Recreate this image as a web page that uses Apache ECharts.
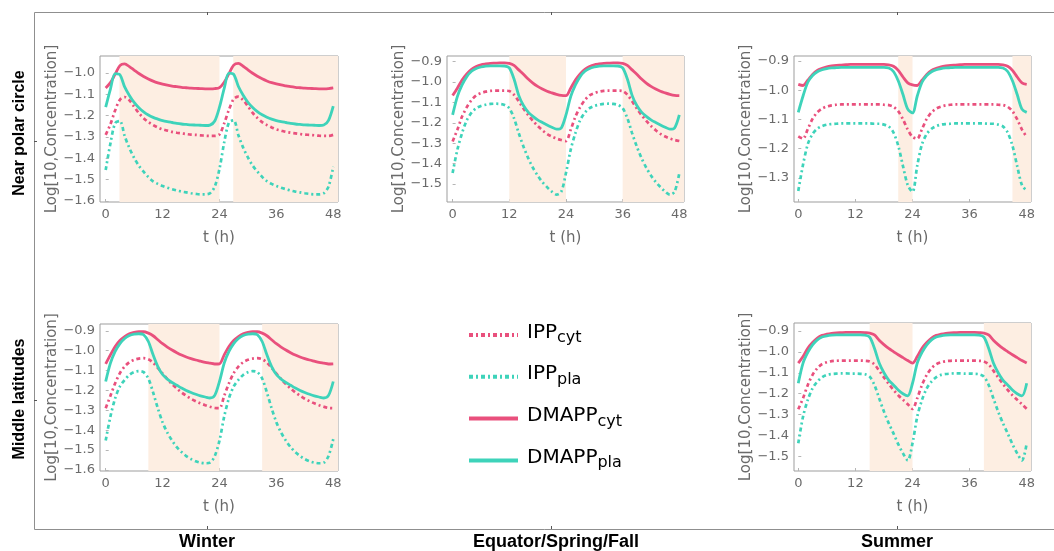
<!DOCTYPE html>
<html lang="en">
<head>
<meta charset="UTF-8">
<title>IPP / DMAPP diurnal profiles</title>
<script src="https://cdn.jsdelivr.net/npm/echarts@6/dist/echarts.min.js"></script>
<style>html,body{margin:0;padding:0;background:#fff;}</style>
</head>
<body>
<div id="main" style="width:1054px;height:551px"></div>
<script type="text/javascript">
var hours = [0,1,2,3,4,5,6,7,8,9,10,11,12,13,14,15,16,17,18,19,20,21,22,23,24,
             25,26,27,28,29,30,31,32,33,34,35,36,37,38,39,40,41,42,43,44,45,46,47,48];
var xTicks = [0, 12, 24, 36, 48];
var seriesNames = ['IPP_cyt', 'IPP_pla', 'DMAPP_cyt', 'DMAPP_pla'];
var rowLabels = ['Near polar circle', 'Middle latitudes'];
var colLabels = ['Winter', 'Equator/Spring/Fall', 'Summer'];

// near polar circle, winter
var polarWinterTicks = [-1.6, -1.5, -1.4, -1.3, -1.2, -1.1, -1.0];
var polarWinterNights = [[2.9, 24], [26.9, 48]];
var polarWinterIppCyt = [-1.29,-1.24,-1.175,-1.125,-1.113,-1.128,-1.158,-1.188,-1.212,-1.23,-1.244,-1.255,-1.264,-1.27,-1.276,-1.28,-1.283,-1.286,-1.289,-1.29,-1.292,-1.294,-1.295,-1.295,-1.288,
  -1.236,-1.172,-1.122,-1.111,-1.127,-1.156,-1.187,-1.211,-1.23,-1.244,-1.255,-1.264,-1.27,-1.276,-1.28,-1.283,-1.286,-1.289,-1.29,-1.292,-1.294,-1.295,-1.295,-1.29];
var polarWinterIppPla = [-1.455,-1.33,-1.235,-1.225,-1.295,-1.352,-1.398,-1.435,-1.463,-1.488,-1.508,-1.52,-1.53,-1.538,-1.545,-1.551,-1.556,-1.56,-1.564,-1.567,-1.569,-1.569,-1.564,-1.533,-1.45,
  -1.325,-1.232,-1.222,-1.292,-1.35,-1.396,-1.434,-1.462,-1.487,-1.507,-1.52,-1.53,-1.538,-1.545,-1.551,-1.556,-1.56,-1.564,-1.567,-1.569,-1.569,-1.564,-1.533,-1.44];
var polarWinterDmCyt = [-1.07,-1.045,-1.005,-0.965,-0.957,-0.97,-0.986,-1.002,-1.016,-1.028,-1.038,-1.046,-1.052,-1.057,-1.061,-1.064,-1.067,-1.069,-1.071,-1.072,-1.073,-1.074,-1.074,-1.073,-1.068,
  -1.043,-1.003,-0.963,-0.955,-0.968,-0.985,-1.001,-1.015,-1.027,-1.037,-1.045,-1.051,-1.056,-1.06,-1.064,-1.067,-1.069,-1.071,-1.072,-1.073,-1.074,-1.074,-1.073,-1.07];
var polarWinterDmPla = [-1.16,-1.075,-1.003,-1.008,-1.065,-1.105,-1.138,-1.163,-1.182,-1.197,-1.208,-1.216,-1.223,-1.228,-1.232,-1.236,-1.239,-1.241,-1.243,-1.244,-1.245,-1.246,-1.244,-1.225,-1.16,
  -1.072,-1.0,-1.006,-1.063,-1.104,-1.137,-1.162,-1.181,-1.196,-1.207,-1.216,-1.223,-1.228,-1.232,-1.236,-1.239,-1.241,-1.243,-1.244,-1.245,-1.246,-1.244,-1.222,-1.155];

// equator / spring / fall
var equatorTicks = [-1.5, -1.4, -1.3, -1.2, -1.1, -1.0, -0.9];
var equatorNights = [[12, 24], [36, 48]];
var equatorIppCyt = [-1.291,-1.234,-1.169,-1.123,-1.088,-1.065,-1.054,-1.047,-1.043,-1.042,-1.042,-1.042,-1.044,-1.062,-1.094,-1.13,-1.162,-1.19,-1.215,-1.236,-1.254,-1.267,-1.277,-1.284,-1.289,
  -1.234,-1.169,-1.123,-1.088,-1.065,-1.054,-1.047,-1.043,-1.042,-1.042,-1.042,-1.044,-1.062,-1.094,-1.13,-1.162,-1.19,-1.215,-1.236,-1.254,-1.267,-1.277,-1.284,-1.289];
var equatorIppPla = [-1.446,-1.332,-1.25,-1.187,-1.15,-1.128,-1.117,-1.111,-1.107,-1.106,-1.107,-1.112,-1.128,-1.177,-1.25,-1.316,-1.373,-1.42,-1.458,-1.49,-1.515,-1.537,-1.552,-1.538,-1.446,
  -1.332,-1.25,-1.187,-1.15,-1.128,-1.117,-1.111,-1.107,-1.106,-1.107,-1.112,-1.128,-1.177,-1.25,-1.316,-1.373,-1.42,-1.458,-1.49,-1.515,-1.537,-1.552,-1.538,-1.446];
var equatorDmCyt = [-1.066,-1.03,-0.99,-0.96,-0.938,-0.924,-0.915,-0.911,-0.908,-0.907,-0.906,-0.906,-0.908,-0.918,-0.94,-0.962,-0.985,-1.005,-1.021,-1.034,-1.045,-1.053,-1.06,-1.065,-1.066,
  -1.03,-0.99,-0.96,-0.938,-0.924,-0.915,-0.911,-0.908,-0.907,-0.906,-0.906,-0.908,-0.918,-0.94,-0.962,-0.985,-1.005,-1.021,-1.034,-1.045,-1.053,-1.06,-1.065,-1.066];
var equatorDmPla = [-1.161,-1.071,-1.014,-0.973,-0.947,-0.933,-0.926,-0.922,-0.92,-0.92,-0.92,-0.921,-0.93,-0.985,-1.065,-1.115,-1.147,-1.168,-1.185,-1.198,-1.21,-1.221,-1.231,-1.225,-1.161,
  -1.071,-1.014,-0.973,-0.947,-0.933,-0.926,-0.922,-0.92,-0.92,-0.92,-0.921,-0.93,-0.985,-1.065,-1.115,-1.147,-1.168,-1.185,-1.198,-1.21,-1.221,-1.231,-1.225,-1.161];

// near polar circle, summer
var polarSummerTicks = [-1.3, -1.2, -1.1, -1.0, -0.9];
var polarSummerNights = [[21, 24], [45, 48]];
var polarSummerIppCyt = [-1.158,-1.166,-1.133,-1.098,-1.076,-1.063,-1.056,-1.052,-1.05,-1.049,-1.049,-1.049,-1.049,-1.049,-1.049,-1.049,-1.049,-1.049,-1.05,-1.051,-1.057,-1.072,-1.1,-1.135,-1.16,
  -1.166,-1.133,-1.098,-1.076,-1.063,-1.056,-1.052,-1.05,-1.049,-1.049,-1.049,-1.049,-1.049,-1.049,-1.049,-1.049,-1.049,-1.05,-1.051,-1.057,-1.072,-1.1,-1.135,-1.16];
var polarSummerIppPla = [-1.345,-1.255,-1.185,-1.15,-1.132,-1.123,-1.118,-1.116,-1.115,-1.114,-1.114,-1.114,-1.114,-1.114,-1.114,-1.114,-1.115,-1.115,-1.118,-1.124,-1.145,-1.19,-1.26,-1.325,-1.348,
  -1.258,-1.185,-1.15,-1.132,-1.123,-1.118,-1.116,-1.115,-1.114,-1.114,-1.114,-1.114,-1.114,-1.114,-1.114,-1.115,-1.115,-1.118,-1.124,-1.145,-1.19,-1.26,-1.325,-1.345];
var polarSummerDmCyt = [-0.98,-0.984,-0.966,-0.946,-0.932,-0.925,-0.92,-0.917,-0.915,-0.914,-0.913,-0.912,-0.912,-0.912,-0.912,-0.912,-0.912,-0.912,-0.912,-0.913,-0.918,-0.932,-0.955,-0.975,-0.982,
  -0.984,-0.966,-0.946,-0.932,-0.925,-0.92,-0.917,-0.915,-0.914,-0.913,-0.912,-0.912,-0.912,-0.912,-0.912,-0.912,-0.912,-0.912,-0.913,-0.918,-0.932,-0.955,-0.975,-0.98];
var polarSummerDmPla = [-1.076,-1.02,-0.973,-0.95,-0.937,-0.93,-0.926,-0.924,-0.923,-0.922,-0.922,-0.922,-0.922,-0.922,-0.922,-0.922,-0.922,-0.922,-0.922,-0.924,-0.936,-0.968,-1.015,-1.065,-1.078,
  -1.02,-0.973,-0.95,-0.937,-0.93,-0.926,-0.924,-0.923,-0.922,-0.922,-0.922,-0.922,-0.922,-0.922,-0.922,-0.922,-0.922,-0.922,-0.924,-0.936,-0.968,-1.015,-1.065,-1.076];

// middle latitudes, winter
var midWinterTicks = [-1.6, -1.5, -1.4, -1.3, -1.2, -1.1, -1.0, -0.9];
var midWinterNights = [[9, 24], [33, 48]];
var midWinterIppCyt = [-1.289,-1.227,-1.164,-1.113,-1.08,-1.058,-1.046,-1.04,-1.038,-1.043,-1.06,-1.087,-1.115,-1.143,-1.168,-1.19,-1.21,-1.227,-1.242,-1.254,-1.265,-1.274,-1.282,-1.288,-1.289,
  -1.227,-1.164,-1.113,-1.08,-1.058,-1.046,-1.04,-1.038,-1.043,-1.06,-1.087,-1.115,-1.143,-1.168,-1.19,-1.21,-1.227,-1.242,-1.254,-1.265,-1.274,-1.282,-1.288,-1.289];
var midWinterIppPla = [-1.452,-1.331,-1.239,-1.18,-1.147,-1.122,-1.108,-1.103,-1.108,-1.14,-1.21,-1.29,-1.36,-1.412,-1.452,-1.485,-1.51,-1.53,-1.545,-1.556,-1.563,-1.566,-1.563,-1.53,-1.452,
  -1.331,-1.239,-1.18,-1.147,-1.122,-1.108,-1.103,-1.108,-1.14,-1.21,-1.29,-1.36,-1.412,-1.452,-1.485,-1.51,-1.53,-1.545,-1.556,-1.563,-1.566,-1.563,-1.53,-1.445];
var midWinterDmCyt = [-1.066,-1.021,-0.979,-0.949,-0.929,-0.915,-0.908,-0.905,-0.905,-0.912,-0.925,-0.945,-0.965,-0.982,-0.997,-1.01,-1.022,-1.032,-1.04,-1.047,-1.053,-1.059,-1.063,-1.067,-1.066,
  -1.021,-0.979,-0.949,-0.929,-0.915,-0.908,-0.905,-0.905,-0.912,-0.925,-0.945,-0.965,-0.982,-0.997,-1.01,-1.022,-1.032,-1.04,-1.047,-1.053,-1.059,-1.063,-1.067,-1.066];
var midWinterDmPla = [-1.155,-1.063,-1.004,-0.965,-0.939,-0.924,-0.917,-0.915,-0.92,-0.954,-1.021,-1.08,-1.12,-1.143,-1.16,-1.174,-1.188,-1.2,-1.21,-1.219,-1.227,-1.233,-1.238,-1.225,-1.155,
  -1.063,-1.004,-0.965,-0.939,-0.924,-0.917,-0.915,-0.92,-0.954,-1.021,-1.08,-1.12,-1.143,-1.16,-1.174,-1.188,-1.2,-1.21,-1.219,-1.227,-1.233,-1.238,-1.225,-1.155];

// middle latitudes, summer
var midSummerTicks = [-1.5, -1.4, -1.3, -1.2, -1.1, -1.0, -0.9];
var midSummerNights = [[15, 24], [39, 48]];
var midSummerIppCyt = [-1.274,-1.221,-1.158,-1.11,-1.078,-1.059,-1.05,-1.045,-1.043,-1.042,-1.042,-1.042,-1.042,-1.042,-1.043,-1.046,-1.06,-1.09,-1.122,-1.153,-1.182,-1.207,-1.229,-1.25,-1.272,
  -1.221,-1.158,-1.11,-1.078,-1.059,-1.05,-1.045,-1.043,-1.042,-1.042,-1.042,-1.042,-1.042,-1.043,-1.046,-1.06,-1.09,-1.122,-1.153,-1.182,-1.207,-1.229,-1.25,-1.272];
var midSummerIppPla = [-1.436,-1.309,-1.229,-1.174,-1.142,-1.121,-1.11,-1.106,-1.104,-1.103,-1.103,-1.104,-1.104,-1.105,-1.107,-1.118,-1.158,-1.222,-1.285,-1.34,-1.389,-1.44,-1.484,-1.518,-1.436,
  -1.309,-1.229,-1.174,-1.142,-1.121,-1.11,-1.106,-1.104,-1.103,-1.103,-1.104,-1.104,-1.105,-1.107,-1.118,-1.158,-1.222,-1.285,-1.34,-1.389,-1.44,-1.484,-1.518,-1.436];
var midSummerDmCyt = [-1.054,-1.023,-0.983,-0.956,-0.935,-0.922,-0.916,-0.912,-0.91,-0.909,-0.908,-0.908,-0.908,-0.908,-0.909,-0.911,-0.92,-0.945,-0.966,-0.984,-0.999,-1.014,-1.028,-1.042,-1.054,
  -1.023,-0.983,-0.956,-0.935,-0.922,-0.916,-0.912,-0.91,-0.909,-0.908,-0.908,-0.908,-0.908,-0.909,-0.911,-0.92,-0.945,-0.966,-0.984,-0.999,-1.014,-1.028,-1.042,-1.054];
var midSummerDmPla = [-1.15,-1.054,-1.003,-0.967,-0.943,-0.93,-0.924,-0.921,-0.92,-0.92,-0.92,-0.92,-0.92,-0.92,-0.921,-0.93,-0.983,-1.054,-1.1,-1.135,-1.158,-1.182,-1.2,-1.21,-1.15,
  -1.054,-1.003,-0.967,-0.943,-0.93,-0.924,-0.921,-0.92,-0.92,-0.92,-0.92,-0.92,-0.92,-0.921,-0.93,-0.983,-1.054,-1.1,-1.135,-1.158,-1.182,-1.2,-1.21,-1.15];

var PINK = '#e9507d';
var TEAL = '#3ed3ba';
var NIGHT = '#fdeee2';
var FRAME = '#9d9d9d';
var LABEL = '#6a6a6a';
var DASHDOT = [4, 3, 2, 3];

var panels = [
  { box: {left: 100, top: 56, width: 238, height: 146}, x: [-1.2, 49.0], y: [-1.605, -0.92],
    ticks: polarWinterTicks, nights: polarWinterNights,
    data: [polarWinterIppCyt, polarWinterIppPla, polarWinterDmCyt, polarWinterDmPla] },
  { box: {left: 447, top: 56, width: 237, height: 146}, x: [-1.19, 48.99], y: [-1.588, -0.872],
    ticks: equatorTicks, nights: equatorNights,
    data: [equatorIppCyt, equatorIppPla, equatorDmCyt, equatorDmPla] },
  { box: {left: 794, top: 56, width: 237, height: 146}, x: [-0.9, 48.9], y: [-1.383, -0.883],
    ticks: polarSummerTicks, nights: polarSummerNights,
    data: [polarSummerIppCyt, polarSummerIppPla, polarSummerDmCyt, polarSummerDmPla] },
  { box: {left: 100, top: 324, width: 238, height: 147}, x: [-1.2, 49.0], y: [-1.605, -0.866],
    ticks: midWinterTicks, nights: midWinterNights,
    data: [midWinterIppCyt, midWinterIppPla, midWinterDmCyt, midWinterDmPla] },
  { box: {left: 794, top: 323, width: 237, height: 148}, x: [-0.9, 48.9], y: [-1.568, -0.863],
    ticks: midSummerTicks, nights: midSummerNights,
    data: [midSummerIppCyt, midSummerIppPla, midSummerDmCyt, midSummerDmPla] }
];

var lineStyles = [
  {color: PINK, width: 2.7, type: DASHDOT},
  {color: TEAL, width: 2.7, type: DASHDOT},
  {color: PINK, width: 2.8, type: 'solid'},
  {color: TEAL, width: 2.8, type: 'solid'}
];

function minus(v) { return v.toFixed(1).replace('-', '\u2212'); }

var grids = [], xAxes = [], yAxes = [], series = [];
panels.forEach(function (p, i) {
  grids.push(Object.assign({show: true, borderColor: FRAME, borderWidth: 1, backgroundColor: 'transparent'}, p.box));
  xAxes.push({
    type: 'value', gridIndex: i, min: p.x[0], max: p.x[1],
    name: 't (h)', nameLocation: 'middle', nameGap: 29,
    nameTextStyle: {color: LABEL, fontSize: 15, fontFamily: 'DejaVu Sans'},
    axisLine: {show: false}, splitLine: {show: false},
    axisTick: {show: true, inside: true, length: 3, customValues: xTicks, lineStyle: {color: '#b5b5b5'}},
    axisLabel: {customValues: xTicks, margin: 6, color: LABEL, fontSize: 13, fontFamily: 'DejaVu Sans'}
  });
  yAxes.push({
    type: 'value', gridIndex: i, min: p.y[0], max: p.y[1],
    name: 'Log[10,Concentration]', nameLocation: 'middle', nameGap: 39,
    nameTextStyle: {color: LABEL, fontSize: 15, fontFamily: 'DejaVu Sans'},
    axisLine: {show: false}, splitLine: {show: false},
    axisTick: {show: true, inside: true, length: 3, customValues: p.ticks, lineStyle: {color: '#b5b5b5'}},
    axisLabel: {customValues: p.ticks, margin: 5, color: LABEL, fontSize: 13, fontFamily: 'DejaVu Sans', formatter: minus}
  });
  seriesNames.forEach(function (name, k) {
    var s = {
      name: name, type: 'line', xAxisIndex: i, yAxisIndex: i,
      data: hours.map(function (h, j) { return [h, p.data[k][j]]; }),
      symbol: 'none', smooth: 0.3,
      itemStyle: {color: lineStyles[k].color},
      lineStyle: lineStyles[k], z: 3 + k
    };
    if (k === 0) {
      s.markArea = {
        silent: true,
        itemStyle: {color: NIGHT},
        data: p.nights.map(function (n) {
          return [{xAxis: n[0]}, {xAxis: n[1] >= 48 ? p.x[1] : n[1]}];
        })
      };
    }
    series.push(s);
  });
});

var gfx = [
  {type: 'line', shape: {x1: 34.5, y1: 12.5, x2: 1054, y2: 12.5}, style: {stroke: '#8f8f8f', lineWidth: 1}},
  {type: 'line', shape: {x1: 34.5, y1: 12.5, x2: 34.5, y2: 529.5}, style: {stroke: '#8f8f8f', lineWidth: 1}},
  {type: 'line', shape: {x1: 34.5, y1: 529.5, x2: 1054, y2: 529.5}, style: {stroke: '#8f8f8f', lineWidth: 1}}
];
[207, 551, 897].forEach(function (x) {
  gfx.push({type: 'line', shape: {x1: x + 0.5, y1: 12, x2: x + 0.5, y2: 15}, style: {stroke: '#555', lineWidth: 1}});
  gfx.push({type: 'line', shape: {x1: x + 0.5, y1: 526, x2: x + 0.5, y2: 529}, style: {stroke: '#555', lineWidth: 1}});
});
[141, 400].forEach(function (y) {
  gfx.push({type: 'line', shape: {x1: 34, y1: y + 0.5, x2: 37, y2: y + 0.5}, style: {stroke: '#555', lineWidth: 1}});
});
[[rowLabels[0], 133], [rowLabels[1], 399]].forEach(function (r) {
  gfx.push({type: 'text', x: 20, y: r[1], rotation: Math.PI / 2,
    style: {text: r[0], align: 'center', verticalAlign: 'middle', fill: '#000',
            font: 'bold 16px "Liberation Sans", Arial, sans-serif'}});
});
[[colLabels[0], 207], [colLabels[1], 556], [colLabels[2], 897]].forEach(function (c) {
  gfx.push({type: 'text', x: c[1], y: 542,
    style: {text: c[0], align: 'center', verticalAlign: 'middle', fill: '#000',
            font: 'bold 18px "Liberation Sans", Arial, sans-serif'}});
});

var chart = echarts.init(document.getElementById('main'), null, {renderer: 'canvas'});
chart.setOption({
  animation: false,
  backgroundColor: '#fff',
  grid: grids,
  xAxis: xAxes,
  yAxis: yAxes,
  legend: {
    data: seriesNames, orient: 'vertical', left: 467, top: 320, padding: 0,
    itemWidth: 49, itemHeight: 14, itemGap: 16, selectedMode: false,
    itemStyle: {opacity: 0},
    lineStyle: {width: 4, opacity: 1},
    formatter: function (n) {
      var parts = n.split('_');
      return '{m|' + parts[0] + '}{s|' + parts[1] + '}';
    },
    textStyle: {
      rich: {
        m: {fontSize: 20, lineHeight: 30, color: '#000', fontFamily: 'DejaVu Sans', verticalAlign: 'top', padding: [2.4, 0, 0, 4]},
        s: {fontSize: 16, lineHeight: 30, color: '#000', fontFamily: 'DejaVu Sans', verticalAlign: 'top', padding: [9.8, 0, 0, 0]}
      }
    }
  },
  graphic: gfx,
  series: series
});
</script>
</body>
</html>
